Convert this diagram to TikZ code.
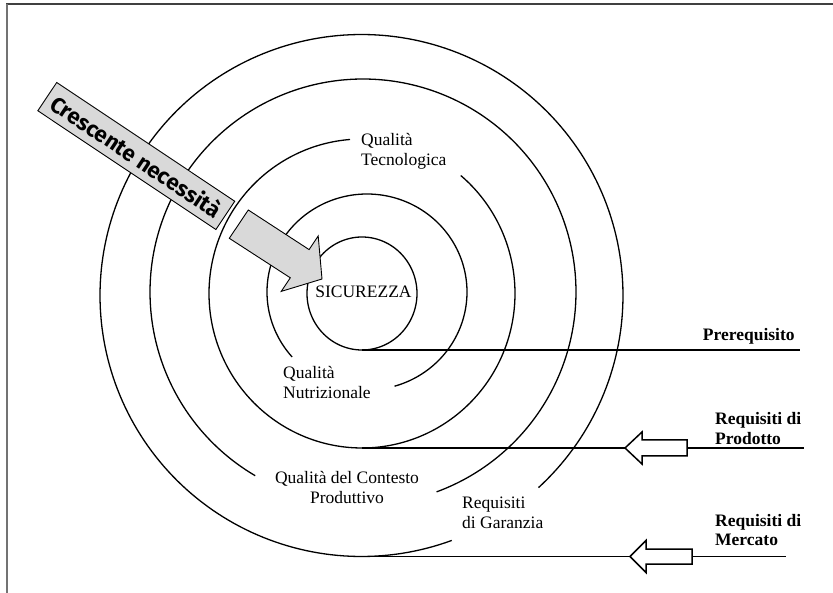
\documentclass[tikz,border=0pt]{standalone}
\usepackage{fontspec}
\setmainfont{Liberation Serif}
\newfontfamily\comicfont{Fira Sans}
\definecolor{boxgray}{RGB}{217,217,217}
\newcommand\ringarc[6]{\draw[ring] plot[domain=#5:#6,samples=240,variable=\t] ({#1+#3*cos(\t)},{#2+#4*sin(\t)});}
\begin{document}
\begin{tikzpicture}[x=1pt,y=-1pt,
  ring/.style={line width=1.3pt, black},
  hline/.style={line width=1.5pt, black},
  harrow/.style={line width=1.5pt, black, fill=white, line join=miter},
  blockarrow/.style={line width=0.9pt, black, fill=boxgray, line join=miter},
  textbox/.style={line width=0.9pt, draw=black, fill=boxgray, inner sep=0pt},
  lbl/.style={inner sep=0pt, font=\fontsize{17.5}{20}\selectfont},
  blbl/.style={inner sep=0pt, font=\fontsize{17.5}{19.5}\selectfont\bfseries}]
\useasboundingbox (0,0) rectangle (833,593);
% frame
\draw[black!75, line width=1.3pt] (6,4) -- (833,4);
\draw[black!55, line width=1.8pt] (6.7,4) -- (6.7,593);
% rings
\draw[ring] plot[domain=0:360,samples=200,variable=\t] ({362+55*cos(\t)},{293.5+56.5*sin(\t)}) -- cycle;
\ringarc{367}{292}{100}{98}{138.5}{434}
\ringarc{362}{293.5}{153}{154.5}{-49.8}{265.5}
\ringarc{363}{292}{213}{213}{120.4}{429.8}
\ringarc{361.5}{295.5}{261.5}{261}{69.8}{407.4}
% horizontal lines
\coordinate (preS) at (362,350);
\coordinate (preE) at (800,350);
\coordinate (proS) at (362,448);
\coordinate (proE) at (804,448);
\coordinate (merS) at (358,556.5);
\coordinate (merE) at (786,556.5);
\draw[hline] (preS) -- (preE);
\draw[hline] (proS) -- (proE);
\draw[hline] (merS) -- (merE);
% hollow arrows
\draw[harrow] (625,448) -- (642,432) -- (642,440) -- (687,440) -- (687,456) -- (642,456) -- (642,464) -- cycle;
\draw[harrow] (630,556.5) -- (646,540.5) -- (646,549) -- (692,549) -- (692,564) -- (646,564) -- (646,572.5) -- cycle;
% rotated box
\node[textbox, rotate=-33.7, minimum width=214pt, minimum height=34pt] (cres) at (136.3,156)
  {\resizebox{200pt}{!}{\comicfont\bfseries Crescente necessità}};
% block arrow
\draw[blockarrow] (248.3,210) -- (309.1,249.6) -- (318.2,236) -- (322,279) -- (281.2,291.4) -- (290.3,277.8) -- (229.3,238.3) -- cycle;
% labels
\node[lbl, anchor=base] (sic) at (363.5,298) {SICUREZZA};
\node[lbl, anchor=base west] (qtec) at (361,146) {\begin{tabular}[t]{@{}l@{}}Qualità\\Tecnologica\end{tabular}};
\node[lbl, anchor=base west] (qnut) at (283,379) {\begin{tabular}[t]{@{}l@{}}Qualità\\Nutrizionale\end{tabular}};
\node[lbl, anchor=base] (qcon) at (347,483.3) {\begin{tabular}[t]{@{}c@{}}Qualità del Contesto\\Produttivo\end{tabular}};
\node[lbl, anchor=base west] (rgar) at (462,508.3) {\begin{tabular}[t]{@{}l@{}}Requisiti\\di Garanzia\end{tabular}};
\node[blbl, anchor=base west] (prer) at (702.7,340.7) {Prerequisito};
\node[blbl, anchor=base west] (rpro) at (715,425) {\begin{tabular}[t]{@{}l@{}}Requisiti di\\Prodotto\end{tabular}};
\node[blbl, anchor=base west] (rmer) at (715,526) {\begin{tabular}[t]{@{}l@{}}Requisiti di\\Mercato\end{tabular}};
\end{tikzpicture}
\end{document}
